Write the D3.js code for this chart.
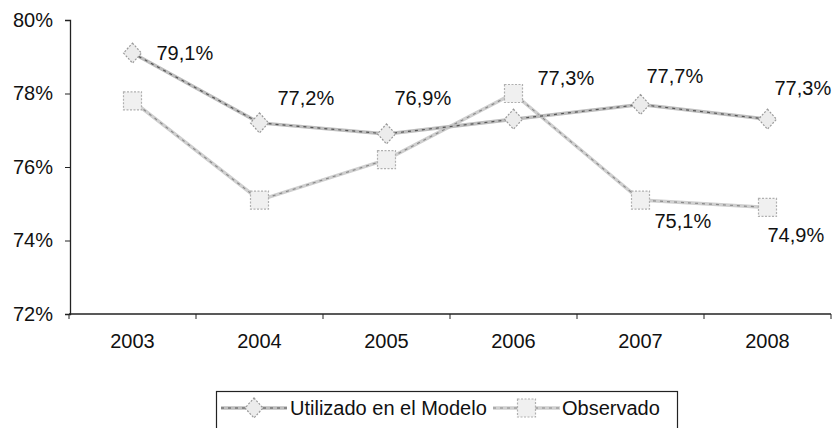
<!DOCTYPE html>
<html>
<head>
<meta charset="utf-8">
<script src="https://cdn.jsdelivr.net/npm/d3@7"></script>
<style>
  body { margin: 0; background: #fff; }
  svg { display: block; font-family: Arial, "Liberation Sans", sans-serif; }
</style>
</head>
<body>
<div id="chart"></div>
<script>
var years = ["2003", "2004", "2005", "2006", "2007", "2008"];
var modelo = [79.1, 77.2, 76.9, 77.3, 77.7, 77.3];
var observado = [77.8, 75.1, 76.2, 78.0, 75.1, 74.9];
var yTicks = [72, 74, 76, 78, 80];
var seriesNames = ["Utilizado en el Modelo", "Observado"];

// which points get a label, and where the label sits relative to its point
var modeloLabelOffsets = [[24, 7], [18, -18], [8, -29], [24, -34], [6, -22], [7, -24]];
var observadoLabelOffsets = [null, null, null, null, [14, 28], [0, 35]];

var width = 833, height = 428;
var marginLeft = 69, marginRight = 2, marginTop = 20, plotBottom = 314;

var fmt = v => v.toFixed(1).replace(".", ",") + "%";

var svg = d3.select("#chart").append("svg")
    .attr("width", width)
    .attr("height", height)
    .attr("viewBox", [0, 0, width, height]);

var x = d3.scaleBand(years, [marginLeft, width - marginRight]);
var y = d3.scaleLinear([72, 80], [plotBottom, marginTop]);
var cx = d => x(d) + x.bandwidth() / 2;

// y axis
var yAxis = svg.append("g")
    .attr("transform", "translate(70,0)")
    .call(d3.axisLeft(y).tickValues(yTicks).tickSize(5).tickFormat(d => d + "%"));
yAxis.select(".domain").attr("stroke", "#222").attr("stroke-width", 1.3);
yAxis.selectAll(".tick line").attr("stroke", "#222");
yAxis.selectAll(".tick text")
    .attr("x", -17)
    .attr("font-size", 20)
    .attr("font-family", "Arial, 'Liberation Sans', sans-serif")
    .attr("fill", "#111");

// x axis with ticks between categories
var xAxis = svg.append("g").attr("transform", "translate(0," + plotBottom + ")");
xAxis.append("line")
    .attr("x1", marginLeft).attr("x2", width - marginRight)
    .attr("stroke", "#222").attr("stroke-width", 1.3);
xAxis.selectAll(".xt")
    .data(years.concat(["end"]))
    .join("line")
    .attr("class", "xt")
    .attr("x1", (d, i) => marginLeft + i * x.step())
    .attr("x2", (d, i) => marginLeft + i * x.step())
    .attr("y1", 0).attr("y2", 5)
    .attr("stroke", "#222");
xAxis.selectAll("text")
    .data(years)
    .join("text")
    .attr("x", cx)
    .attr("y", 34)
    .attr("text-anchor", "middle")
    .attr("font-size", 20)
    .attr("fill", "#111")
    .text(d => d);

var line = d3.line().x((d, i) => cx(years[i])).y(d => y(d));

function diamond(g, px, py) {
    g.append("path")
        .attr("d", `M${px},${py - 10}L${px + 9},${py}L${px},${py + 10}L${px - 9},${py}Z`)
        .attr("fill", "#ececec")
        .attr("stroke", "#9a9a9a")
        .attr("stroke-width", 1.2)
        .attr("stroke-dasharray", "2,1.5");
}
function square(g, px, py) {
    g.append("rect")
        .attr("x", px - 9).attr("y", py - 9)
        .attr("width", 18).attr("height", 18)
        .attr("fill", "#f0f0f0")
        .attr("stroke", "#b0b0b0")
        .attr("stroke-width", 1.2)
        .attr("stroke-dasharray", "2,1.5");
}

function drawSeries(values, color, speck, marker) {
    var g = svg.append("g");
    g.append("path").datum(values)
        .attr("d", line)
        .attr("fill", "none")
        .attr("stroke", color)
        .attr("stroke-width", 3.5);
    g.append("path").datum(values)
        .attr("d", line)
        .attr("fill", "none")
        .attr("stroke", speck)
        .attr("stroke-width", 1.2)
        .attr("stroke-dasharray", "3,4");
    values.forEach((v, i) => marker(g, cx(years[i]), y(v)));
}

drawSeries(observado, "#cfcfcf", "#8a8a8a", square);
drawSeries(modelo, "#bdbdbd", "#555", diamond);

function drawLabels(values, offsets) {
    svg.append("g").selectAll("text")
        .data(values.map((v, i) => ({v: v, i: i, o: offsets[i]})).filter(d => d.o))
        .join("text")
        .attr("x", d => cx(years[d.i]) + d.o[0])
        .attr("y", d => y(d.v) + d.o[1])
        .attr("font-size", 20)
        .attr("fill", "#111")
        .text(d => fmt(d.v));
}
drawLabels(modelo, modeloLabelOffsets);
drawLabels(observado, observadoLabelOffsets);

// legend
var lg = svg.append("g");
lg.append("rect")
    .attr("x", 216.5).attr("y", 391.5)
    .attr("width", 461).attr("height", 40)
    .attr("fill", "none").attr("stroke", "#222").attr("stroke-width", 1.2);

function legendItem(x0, len, color, speck, marker, name, tx) {
    lg.append("line").attr("x1", x0).attr("x2", x0 + len).attr("y1", 408).attr("y2", 408)
        .attr("stroke", color).attr("stroke-width", 3.5);
    lg.append("line").attr("x1", x0).attr("x2", x0 + len).attr("y1", 408).attr("y2", 408)
        .attr("stroke", speck).attr("stroke-width", 1.2).attr("stroke-dasharray", "3,4");
    marker(lg, x0 + len / 2, 408);
    lg.append("text").attr("x", tx).attr("y", 415)
        .attr("font-size", 20).attr("fill", "#111").text(name);
}
legendItem(221, 66, "#bdbdbd", "#555", diamond, seriesNames[0], 290);
legendItem(493, 67, "#cfcfcf", "#8a8a8a", square, seriesNames[1], 562);
</script>
</body>
</html>
